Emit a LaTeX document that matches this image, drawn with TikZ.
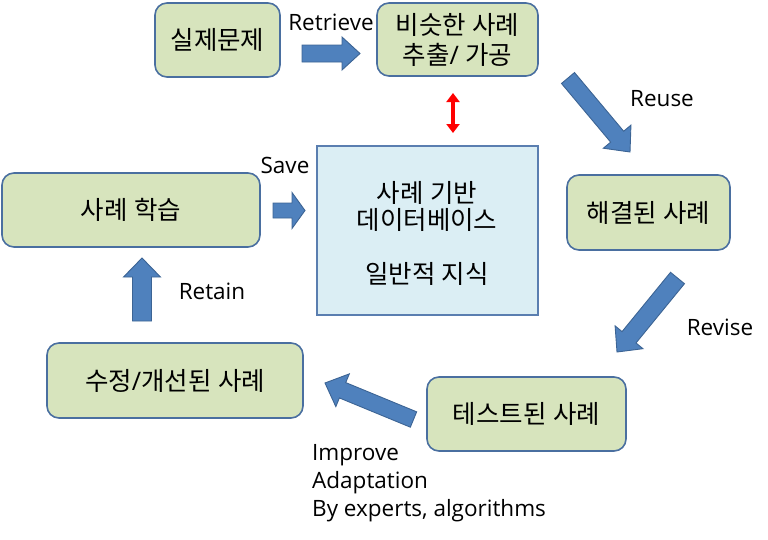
\documentclass[tikz,border=0pt]{standalone}
\usepackage{fontspec}
\setmainfont{Open Sans}
\newfontfamily\kr[RawFeature=+fwid, WordSpace={0.25}]{Noto Sans CJK KR}
\newfontfamily\latf{Open Sans}
\newcommand\sls{{\latf /}}
\usetikzlibrary{calc,arrows.meta}
\definecolor{boxfill}{HTML}{D7E4BD}
\definecolor{boxline}{HTML}{4A6FA0}
\definecolor{dbfill}{HTML}{DBEEF4}
\definecolor{dbline}{HTML}{5A7EB0}
\definecolor{arrfill}{HTML}{4F81BD}
\definecolor{arrline}{HTML}{3C6494}
% tail, tip, shaft half width, head half width, head length
\newcommand\blockarrow[5]{%
  \coordinate (nk) at ($(#2)!#5!(#1)$);
  \filldraw[bluearrow] ($(#1)!#3!90:(#2)$) -- ($(nk)!#3!90:(#2)$) -- ($(nk)!#4!90:(#2)$) -- (#2)
    -- ($(nk)!#4!-90:(#2)$) -- ($(nk)!#3!-90:(#2)$) -- ($(#1)!#3!-90:(#2)$) -- cycle;}
\begin{document}
\begin{tikzpicture}[x=1pt,y=-1pt,
  gbox/.style={draw=boxline, fill=boxfill, line width=1.6pt, rounded corners=12pt,
    align=center, inner sep=0pt, font=\kr\fontsize{25.5}{30}\selectfont},
  dbbox/.style={draw=dbline, fill=dbfill, line width=1.6pt, inner sep=0pt},
  krtext/.style={align=center, inner sep=0pt, font=\kr\fontsize{25.5}{27}\selectfont},
  lbl/.style={inner sep=0pt, font=\fontsize{22.5}{28}\selectfont},
  bluearrow/.style={fill=arrfill, draw=arrline, line width=0.9pt, line join=miter}]
\useasboundingbox (0,0) rectangle (768,539);

% boxes
\node[gbox, minimum width=125pt, minimum height=74pt] (real) at (217.5,40) {실제문제};
\node[gbox, minimum width=161pt, minimum height=73pt] (similar) at (457.5,39.5) {비슷한 사례\\추출\sls{} 가공};
\node[dbbox, minimum width=221pt, minimum height=169pt] (db) at (427.5,230.5) {};
\node[krtext] (dbtext) at (427,233) {사례 기반\\데이터베이스\\[27pt]일반적 지식};
\node[gbox, minimum width=258pt, minimum height=74pt] (learn) at (131,210) {사례 학습};
\node[gbox, minimum width=163pt, minimum height=75pt] (solved) at (648.5,212.5) {해결된 사례};
\node[gbox, minimum width=199pt, minimum height=74pt] (tested) at (526.5,414) {테스트된 사례};
\node[gbox, minimum width=256pt, minimum height=75pt] (revised) at (175,380.5) {수정\sls{}개선된 사례};

% block arrows
\coordinate (retT) at (302,53.5);  \coordinate (retH) at (360,53.5);
\coordinate (reuT) at (568,78);    \coordinate (reuH) at (630,152);
\coordinate (revT) at (677.5,278); \coordinate (revH) at (617,352);
\coordinate (impT) at (413.5,419.5); \coordinate (impH) at (325,383);
\coordinate (savT) at (273,210.5); \coordinate (savH) at (305,210.5);
\coordinate (rtnT) at (142,321);   \coordinate (rtnH) at (142,258);
\blockarrow{retT}{retH}{8.5pt}{16.5pt}{18pt}
\blockarrow{reuT}{reuH}{8.5pt}{18pt}{20pt}
\blockarrow{revT}{revH}{9pt}{18pt}{19pt}
\blockarrow{impT}{impH}{8.3pt}{17.7pt}{19pt}
\blockarrow{savT}{savH}{7.5pt}{18pt}{13pt}
\blockarrow{rtnT}{rtnH}{9.5pt}{18.5pt}{19pt}

% red double arrow
\coordinate (rdA) at (453,93); \coordinate (rdB) at (453,133);
\draw[red, line width=3.5pt, {Triangle[width=13pt,length=9pt]}-{Triangle[width=13pt,length=9pt]}] (rdA) -- (rdB);

% labels
\node[lbl] (lretrieve) at (331,22) {Retrieve};
\node[lbl] (lreuse) at (662,99) {Reuse};
\node[lbl] (lrevise) at (720,327) {Revise};
\node[lbl] (lsave) at (285,165) {Save};
\node[lbl] (lretain) at (212,291) {Retain};
\node[lbl, anchor=west, align=left] (limprove) at (312,483) {Improve\\Adaptation\\By experts, algorithms};
\end{tikzpicture}
\end{document}
